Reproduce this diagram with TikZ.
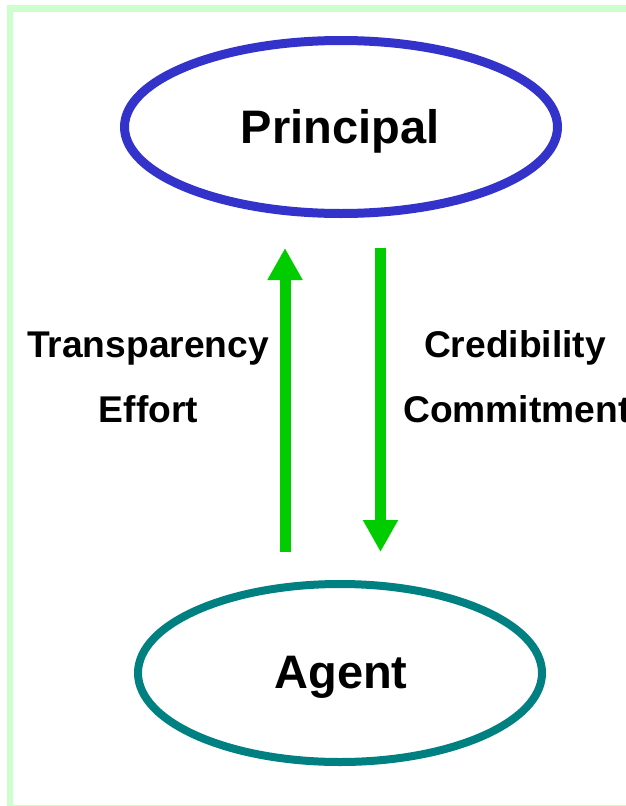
\documentclass[tikz,border=0pt]{standalone}
\usepackage{fontspec}
\setmainfont{Liberation Sans}
\usetikzlibrary{shapes.geometric,arrows.meta}
\definecolor{framegreen}{HTML}{CCFFCC}
\definecolor{princblue}{HTML}{3333CC}
\definecolor{agentteal}{HTML}{008080}
\definecolor{arrowgreen}{HTML}{00CC00}
\tikzset{
  oval/.style={ellipse, draw, inner sep=0pt, outer sep=0pt},
  bigtext/.style={anchor=base, inner sep=0pt, font=\bfseries\fontsize{47}{56}\selectfont},
  smalltext/.style={anchor=base, inner sep=0pt, font=\bfseries\fontsize{37.2}{44}\selectfont},
  flow/.style={arrowgreen, line width=11pt, -{Triangle[width=33pt,length=32pt]}}
}
\begin{document}
\begin{tikzpicture}[x=1pt,y=-1pt]
\useasboundingbox (0,0) rectangle (626,806);
\clip (0,0) rectangle (626,806);
\draw[framegreen, line width=6.5pt] (10,8.5) rectangle (660,808);
\node[oval, princblue, line width=9pt, minimum width=433pt, minimum height=173pt] (principal) at (341,127) {};
\node[oval, agentteal, line width=8pt, minimum width=404pt, minimum height=178pt] (agent) at (340,673) {};
\node[bigtext] (ptext) at (340,143) {Principal};
\node[bigtext] (atext) at (341,688) {Agent};
\node[smalltext] (transp) at (148,357) {Transparency};
\node[smalltext] (effort) at (148.5,422) {Effort};
\node[smalltext] (cred) at (515,357) {Credibility};
\node[smalltext, anchor=base west] (commit) at (403,422) {Commitment};
\coordinate (upstart) at (285,552);
\coordinate (upend) at (285,248);
\coordinate (downstart) at (380.5,248);
\coordinate (downend) at (380.5,552);
\draw[flow] (upstart) -- (upend);
\draw[flow] (downstart) -- (downend);
\end{tikzpicture}
\end{document}
